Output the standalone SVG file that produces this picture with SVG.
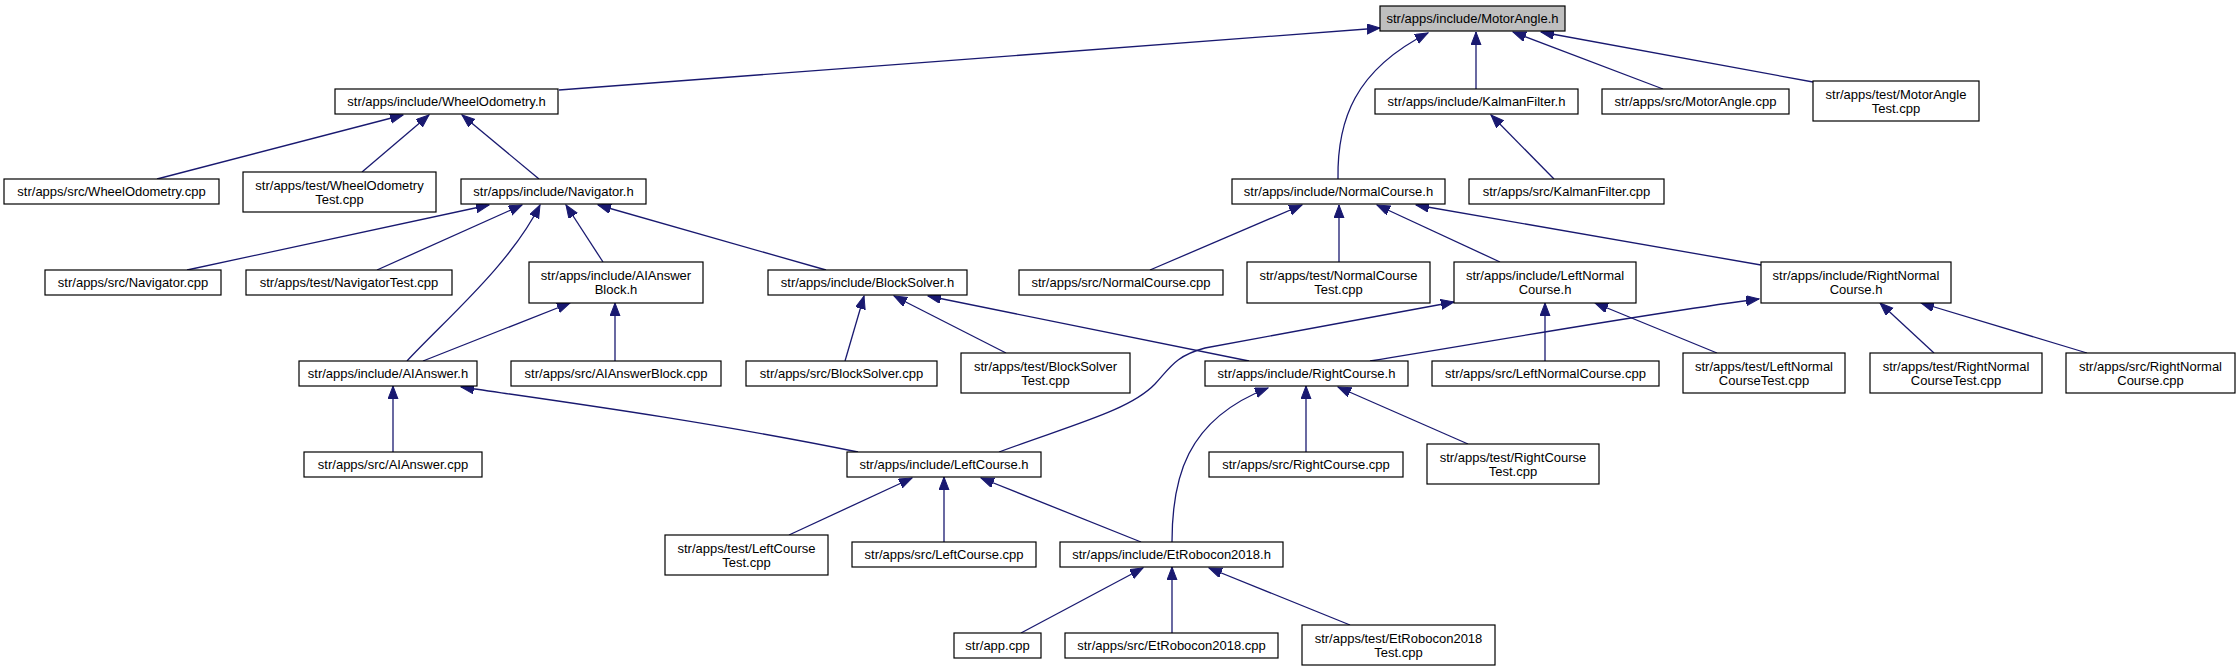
<svg xmlns="http://www.w3.org/2000/svg" width="2240" height="672" viewBox="0 0 2240 672">
<style>
.n rect{fill:#ffffff;stroke:#000000;stroke-width:1.2}
#n0 rect{fill:#bfbfbf}
.n text{font-family:"Liberation Sans",Arial,Helvetica,sans-serif;font-size:13px;fill:#000000;text-anchor:middle}
#edges path{fill:none;stroke:#191970;stroke-width:1.3;marker-end:url(#arr)}
</style>
<defs>
<marker id="arr" markerUnits="userSpaceOnUse" markerWidth="14" markerHeight="11" refX="13" refY="5" orient="auto">
<path d="M0,0 L13,5 L0,10 Z" fill="#191970" stroke="#191970" stroke-width="1"/>
</marker>
</defs>
<rect width="2240" height="672" fill="#ffffff"/>
<g id="edges">
<path d="M559,90 L1380,28"/>
<path d="M1338,179 C1337,120 1355,70 1428,33"/>
<path d="M1476,89 L1476,32"/>
<path d="M1663,89 L1513,32"/>
<path d="M1813,82 L1541,32"/>
<path d="M157,179 L403,115"/>
<path d="M362,172 L429,115"/>
<path d="M539,179 L462,115"/>
<path d="M187,270 L489,205"/>
<path d="M377,270 L522,205"/>
<path d="M407,361 C445,320 510,265 540,205"/>
<path d="M603,262 L566,205"/>
<path d="M826,270 L598,205"/>
<path d="M423,361 L570,303"/>
<path d="M615,361 L615,303"/>
<path d="M845,361 L864,296"/>
<path d="M1006,353 L894,296"/>
<path d="M1249,361 L928,296"/>
<path d="M393,452 L393,386"/>
<path d="M858,452 C700,420 550,400 461,387"/>
<path d="M999,452 C1075,424 1130,410 1155,384 C1170,368 1175,356 1205,348 L1454,302"/>
<path d="M1150,270 L1302,205"/>
<path d="M1339,262 L1339,205"/>
<path d="M1500,262 L1377,205"/>
<path d="M1761,265 L1416,205"/>
<path d="M1554,179 L1491,115"/>
<path d="M1370,361 C1500,340 1650,313 1759,299"/>
<path d="M1545,361 L1545,303"/>
<path d="M1717,353 L1595,303"/>
<path d="M1934,353 L1880,303"/>
<path d="M2087,353 L1921,303"/>
<path d="M1306,452 L1306,386"/>
<path d="M1468,444 L1338,387"/>
<path d="M1172,542 C1172,480 1185,420 1268,388"/>
<path d="M789,535 L912,478"/>
<path d="M944,542 L944,477"/>
<path d="M1141,542 L981,478"/>
<path d="M1021,633 L1143,568"/>
<path d="M1172,633 L1172,567"/>
<path d="M1350,625 L1209,568"/>
</g>
<g id="n0" class="n"><rect x="1380" y="6" width="185" height="25"/><text x="1472.5" y="23">str/apps/include/MotorAngle.h</text></g>
<g id="n1" class="n"><rect x="335" y="89" width="223" height="25"/><text x="446.5" y="106">str/apps/include/WheelOdometry.h</text></g>
<g id="n2" class="n"><rect x="1375" y="89" width="203" height="25"/><text x="1476.5" y="106">str/apps/include/KalmanFilter.h</text></g>
<g id="n3" class="n"><rect x="1602" y="89" width="187" height="25"/><text x="1695.5" y="106">str/apps/src/MotorAngle.cpp</text></g>
<g id="n4" class="n"><rect x="1813" y="81" width="166" height="40"/><text x="1896" y="99">str/apps/test/MotorAngle</text><text x="1896" y="113">Test.cpp</text></g>
<g id="n5" class="n"><rect x="4" y="179" width="215" height="25"/><text x="111.5" y="196">str/apps/src/WheelOdometry.cpp</text></g>
<g id="n6" class="n"><rect x="243" y="172" width="193" height="40"/><text x="339.5" y="190">str/apps/test/WheelOdometry</text><text x="339.5" y="204">Test.cpp</text></g>
<g id="n7" class="n"><rect x="461" y="179" width="185" height="25"/><text x="553.5" y="196">str/apps/include/Navigator.h</text></g>
<g id="n8" class="n"><rect x="1232" y="179" width="213" height="25"/><text x="1338.5" y="196">str/apps/include/NormalCourse.h</text></g>
<g id="n9" class="n"><rect x="1469" y="179" width="195" height="25"/><text x="1566.5" y="196">str/apps/src/KalmanFilter.cpp</text></g>
<g id="n10" class="n"><rect x="45" y="270" width="176" height="25"/><text x="133" y="287">str/apps/src/Navigator.cpp</text></g>
<g id="n11" class="n"><rect x="246" y="270" width="206" height="25"/><text x="349" y="287">str/apps/test/NavigatorTest.cpp</text></g>
<g id="n12" class="n"><rect x="529" y="262" width="174" height="41"/><text x="616" y="280">str/apps/include/AIAnswer</text><text x="616" y="294">Block.h</text></g>
<g id="n13" class="n"><rect x="768" y="270" width="199" height="25"/><text x="867.5" y="287">str/apps/include/BlockSolver.h</text></g>
<g id="n14" class="n"><rect x="1019" y="270" width="204" height="25"/><text x="1121" y="287">str/apps/src/NormalCourse.cpp</text></g>
<g id="n15" class="n"><rect x="1247" y="262" width="183" height="41"/><text x="1338.5" y="280">str/apps/test/NormalCourse</text><text x="1338.5" y="294">Test.cpp</text></g>
<g id="n16" class="n"><rect x="1454" y="262" width="182" height="41"/><text x="1545" y="280">str/apps/include/LeftNormal</text><text x="1545" y="294">Course.h</text></g>
<g id="n17" class="n"><rect x="1761" y="262" width="190" height="41"/><text x="1856" y="280">str/apps/include/RightNormal</text><text x="1856" y="294">Course.h</text></g>
<g id="n18" class="n"><rect x="299" y="361" width="178" height="25"/><text x="388" y="378">str/apps/include/AIAnswer.h</text></g>
<g id="n19" class="n"><rect x="511" y="361" width="210" height="25"/><text x="616" y="378">str/apps/src/AIAnswerBlock.cpp</text></g>
<g id="n20" class="n"><rect x="746" y="361" width="191" height="25"/><text x="841.5" y="378">str/apps/src/BlockSolver.cpp</text></g>
<g id="n21" class="n"><rect x="961" y="353" width="169" height="40"/><text x="1045.5" y="371">str/apps/test/BlockSolver</text><text x="1045.5" y="385">Test.cpp</text></g>
<g id="n22" class="n"><rect x="1205" y="361" width="203" height="25"/><text x="1306.5" y="378">str/apps/include/RightCourse.h</text></g>
<g id="n23" class="n"><rect x="1432" y="361" width="227" height="25"/><text x="1545.5" y="378">str/apps/src/LeftNormalCourse.cpp</text></g>
<g id="n24" class="n"><rect x="1683" y="353" width="162" height="40"/><text x="1764" y="371">str/apps/test/LeftNormal</text><text x="1764" y="385">CourseTest.cpp</text></g>
<g id="n25" class="n"><rect x="1870" y="353" width="172" height="40"/><text x="1956" y="371">str/apps/test/RightNormal</text><text x="1956" y="385">CourseTest.cpp</text></g>
<g id="n26" class="n"><rect x="2066" y="353" width="169" height="40"/><text x="2150.5" y="371">str/apps/src/RightNormal</text><text x="2150.5" y="385">Course.cpp</text></g>
<g id="n27" class="n"><rect x="304" y="452" width="178" height="25"/><text x="393" y="469">str/apps/src/AIAnswer.cpp</text></g>
<g id="n28" class="n"><rect x="847" y="452" width="194" height="25"/><text x="944" y="469">str/apps/include/LeftCourse.h</text></g>
<g id="n29" class="n"><rect x="1209" y="452" width="194" height="25"/><text x="1306" y="469">str/apps/src/RightCourse.cpp</text></g>
<g id="n30" class="n"><rect x="1427" y="444" width="172" height="40"/><text x="1513" y="462">str/apps/test/RightCourse</text><text x="1513" y="476">Test.cpp</text></g>
<g id="n31" class="n"><rect x="665" y="535" width="163" height="40"/><text x="746.5" y="553">str/apps/test/LeftCourse</text><text x="746.5" y="567">Test.cpp</text></g>
<g id="n32" class="n"><rect x="852" y="542" width="184" height="25"/><text x="944" y="559">str/apps/src/LeftCourse.cpp</text></g>
<g id="n33" class="n"><rect x="1060" y="542" width="223" height="25"/><text x="1171.5" y="559">str/apps/include/EtRobocon2018.h</text></g>
<g id="n34" class="n"><rect x="954" y="633" width="87" height="25"/><text x="997.5" y="650">str/app.cpp</text></g>
<g id="n35" class="n"><rect x="1065" y="633" width="213" height="25"/><text x="1171.5" y="650">str/apps/src/EtRobocon2018.cpp</text></g>
<g id="n36" class="n"><rect x="1302" y="625" width="193" height="40"/><text x="1398.5" y="643">str/apps/test/EtRobocon2018</text><text x="1398.5" y="657">Test.cpp</text></g>
</svg>
